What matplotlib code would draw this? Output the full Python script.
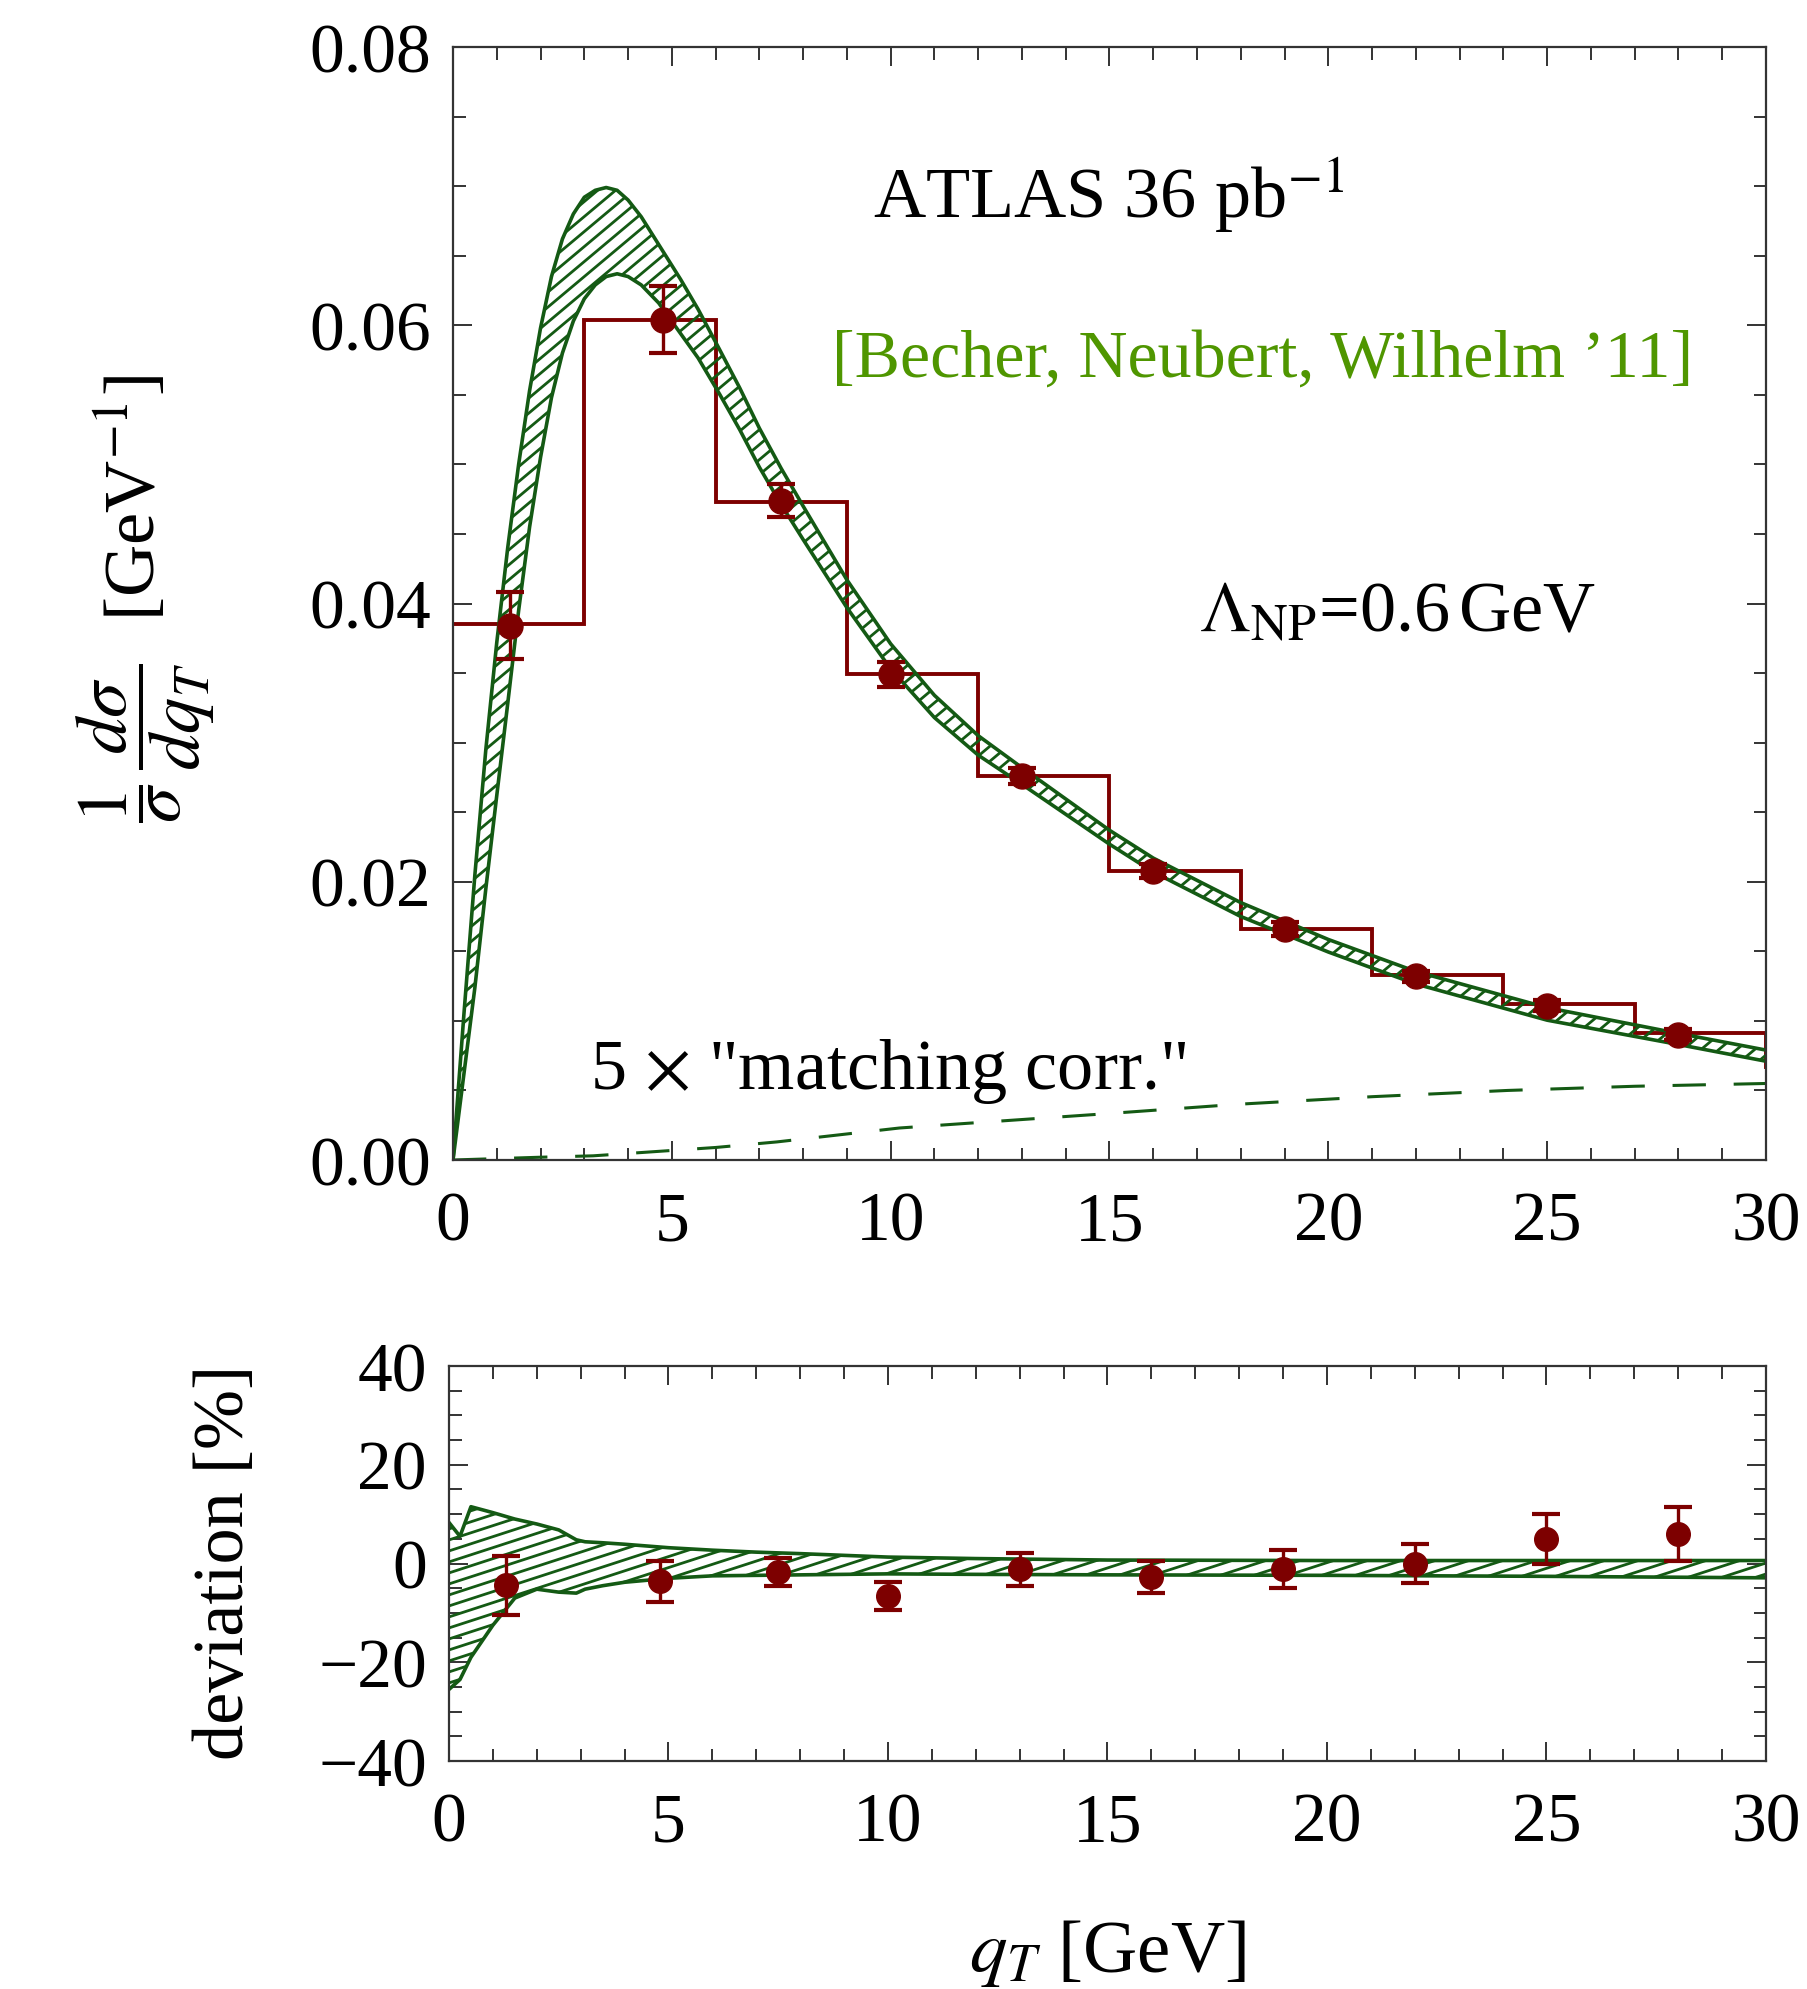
import numpy as np
import matplotlib
matplotlib.use("Agg")
import matplotlib.pyplot as plt
from matplotlib.collections import LineCollection
from matplotlib.ticker import MultipleLocator, FixedLocator

plt.rcParams["font.family"] = ["Liberation Serif", "DejaVu Serif"]
plt.rcParams["mathtext.fontset"] = "stix"
plt.rcParams["lines.scale_dashes"] = False

# ---- data ----
bin_edges = [0, 3, 6, 9, 12, 15, 18, 21, 24, 27, 30, 33]
bin_values = [0.0385, 0.0604, 0.0473, 0.0349, 0.0276, 0.0208, 0.0166, 0.0133, 0.0112, 0.0091, 0.0067]

pt_x = [1.3, 4.8, 7.5, 10.0, 13.0, 16.0, 19.0, 22.0, 25.0, 28.0]
pt_y = [0.0384, 0.0604, 0.0474, 0.0349, 0.0276, 0.0208, 0.0166, 0.0132, 0.0111, 0.0090]
pt_err = [0.0024, 0.0024, 0.0012, 0.0009, 0.0006, 0.0005, 0.0005, 0.0004, 0.0004, 0.0004]

dev_y = [-4.4, -3.6, -1.7, -6.6, -1.2, -2.7, -1.1, 0.0, 5.0, 6.0]
dev_err = [6.0, 4.2, 2.9, 2.9, 3.3, 3.3, 3.9, 4.0, 5.1, 5.4]

band_x = [0, 0.25, 0.5, 0.75, 1.0, 1.25, 1.5, 1.75, 2.0, 2.25, 2.5, 2.75, 3.0, 3.25,
          3.5, 3.75, 4.0, 4.3, 4.7, 5.2, 5.6, 6.1, 6.55, 7.0, 7.5, 8.0, 9.0, 10.0,
          11.0, 12.0, 13.0, 14.0, 15.0, 16.0, 18.0, 20.0, 22.0, 25.0, 28.0, 30.0]
band_hi = [0, 0.0105, 0.0205, 0.0295, 0.0372, 0.0440, 0.0500, 0.0553, 0.0598, 0.0635,
           0.0662, 0.0680, 0.0692, 0.0697, 0.0699, 0.0697, 0.0690, 0.0678, 0.0658,
           0.0633, 0.06115, 0.0582, 0.0555, 0.0526, 0.0497, 0.0470, 0.0417, 0.0371,
           0.0334, 0.0305, 0.0282, 0.02595, 0.0237, 0.0217, 0.0185, 0.01585, 0.01355,
           0.01095, 0.0091, 0.0079]
band_lo = [0, 0.0062, 0.0124, 0.0195, 0.0262, 0.0328, 0.0395, 0.0455, 0.0505, 0.0548,
           0.0580, 0.0603, 0.0619, 0.0629, 0.0635, 0.0637, 0.0635, 0.0629, 0.0616,
           0.0594, 0.05765, 0.0550, 0.0525, 0.0498, 0.0471, 0.0446, 0.0397, 0.0353,
           0.0318, 0.0291, 0.0270, 0.02485, 0.0227, 0.0207, 0.0175, 0.01495, 0.01265,
           0.01005, 0.0083, 0.0071]

match_x = [0, 2, 3.2, 4.6, 6, 7.4, 8.8, 10.2, 12.5, 14.8, 17.9, 21, 24.1, 27, 30]
match_y = [0, 0.0002, 0.0003, 0.0006, 0.0009, 0.0013, 0.0018, 0.0023, 0.0028, 0.0033,
           0.0040, 0.00455, 0.0050, 0.0053, 0.0055]

dev_band_x = [0, 0.25, 0.5, 1.0, 1.5, 2.0, 2.5, 2.9, 3.1, 3.5, 4.0, 5.0, 6.0, 7.0, 8.0,
              10.0, 12.0, 15.0, 20.0, 25.0, 30.0]
dev_band_hi = [8.3, 5.5, 11.5, 10.3, 9.0, 8.0, 6.8, 4.8, 4.4, 4.2, 3.9, 3.2, 2.7, 2.3,
               2.0, 1.3, 1.0, 0.7, 0.6, 0.6, 0.6]
dev_band_lo = [-25.5, -23.5, -19.0, -12.5, -7.0, -5.2, -5.8, -6.0, -5.2, -4.5, -3.8,
               -3.0, -2.5, -2.4, -2.3, -2.1, -2.2, -2.3, -2.4, -2.6, -2.9]

top_yticks = [0.0, 0.02, 0.04, 0.06, 0.08]
top_yticklabels = ["0.00", "0.02", "0.04", "0.06", "0.08"]
dev_yticks = [-40, -20, 0, 20, 40]
dev_yticklabels = ["\u221240", "\u221220", "0", "20", "40"]
xticks = [0, 5, 10, 15, 20, 25, 30]
xticklabels = ["0", "5", "10", "15", "20", "25", "30"]

GREEN = "#145a14"
RED = "#7d0000"
TXTGREEN = "#4f9600"
FRAME = "#333333"

W, H = 1808, 1990
fig = plt.figure(figsize=(W / 100, H / 100), dpi=100)
ax1 = fig.add_axes([453 / W, 1 - 1161 / H, (1766 - 453) / W, (1161 - 48) / H])
ax2 = fig.add_axes([449 / W, 1 - 1762 / H, (1766 - 449) / W, (1762 - 1367) / H])


def hatch_band(ax, x, lo, hi, angle, step):
    # diagonal hatch lines clipped to the band (angle in degrees, step in px)
    poly = ax.fill_between(x, lo, hi, facecolor="none", edgecolor="none")
    pos = ax.get_position()
    wpx, hpx = pos.width * W, pos.height * H
    t = np.tan(np.radians(angle))
    segs = [[(0, c / hpx), (1, (t * wpx + c) / hpx)] for c in np.arange(-t * wpx, hpx, step)]
    lc = LineCollection(segs, transform=ax.transAxes, colors=GREEN, linewidths=2.0)
    ax.add_collection(lc, autolim=False)
    lc.set_clip_path(poly.get_paths()[0], ax.transData)
    ax.plot(x, hi, color=GREEN, lw=2.6, solid_joinstyle="round")
    ax.plot(x, lo, color=GREEN, lw=2.6, solid_joinstyle="round")


# ---- top panel ----
hatch_band(ax1, band_x, band_lo, band_hi, 40, 15)
ax1.plot(match_x, match_y, color=GREEN, lw=2.2, dashes=(24, 20))
ax1.stairs(bin_values, bin_edges, baseline=None, color=RED, lw=2.8)
ax1.errorbar(pt_x, pt_y, yerr=pt_err, fmt="o", color=RED, ms=18, elinewidth=2.4,
             capsize=10, capthick=3)

ax1.text(9.6, 0.0678, "ATLAS 36 pb$^{-1}$", fontsize=52, va="baseline")
ax1.text(8.66, 0.0564, "[Becher, Neubert, Wilhelm \u201911]", fontsize=49,
         color=TXTGREEN, va="baseline")
ax1.text(17.05, 0.0381, r"$\Lambda_{\rm NP}$=0.6$\,$GeV", fontsize=52, va="baseline")
ax1.text(3.13, 0.00518, '5 $\\times$ "matching corr."', fontsize=52, va="baseline")

ax1.set_xlim(0, 30)
ax1.set_ylim(0, 0.08)
ax1.xaxis.set_major_locator(FixedLocator(xticks))
ax1.set_xticklabels(xticklabels)
ax1.xaxis.set_minor_locator(MultipleLocator(1))
ax1.yaxis.set_major_locator(FixedLocator(top_yticks))
ax1.set_yticklabels(top_yticklabels)
ax1.yaxis.set_minor_locator(MultipleLocator(0.005))

# ---- bottom panel ----
hatch_band(ax2, dev_band_x, dev_band_lo, dev_band_hi, 18, 11)
ax2.errorbar(pt_x, dev_y, yerr=dev_err, fmt="o", color=RED, ms=17, elinewidth=2.4,
             capsize=10, capthick=3)
ax2.set_xlim(0, 30)
ax2.set_ylim(-40, 40)
ax2.xaxis.set_major_locator(FixedLocator(xticks))
ax2.set_xticklabels(xticklabels)
ax2.xaxis.set_minor_locator(MultipleLocator(1))
ax2.yaxis.set_major_locator(FixedLocator(dev_yticks))
ax2.set_yticklabels(dev_yticklabels)
ax2.yaxis.set_minor_locator(MultipleLocator(5))

for ax in (ax1, ax2):
    for sp in ax.spines.values():
        sp.set_linewidth(1.6)
        sp.set_color(FRAME)
    ax.tick_params(which="both", direction="in", top=True, right=True, color=FRAME,
                   width=1.4, labelsize=50)
    ax.tick_params(which="major", length=14)
    ax.tick_params(which="minor", length=9)
    ax.tick_params(axis="x", pad=22)
    ax.tick_params(axis="y", pad=16)

fig.text(146 / W, 1 - 599 / H,
         r"$\dfrac{1}{\sigma}\,\dfrac{d\sigma}{dq_T}$  [GeV$^{-1}$]",
         rotation=90, ha="center", va="center", fontsize=52)
fig.text(226 / W, 1 - 1562 / H, "deviation [%]", rotation=90, ha="center",
         va="center", fontsize=52)
fig.text(1107 / W, 1 - 1954 / H, "$q_T$ [GeV]", ha="center", va="center", fontsize=54)

fig.savefig("out.png", dpi=100)
